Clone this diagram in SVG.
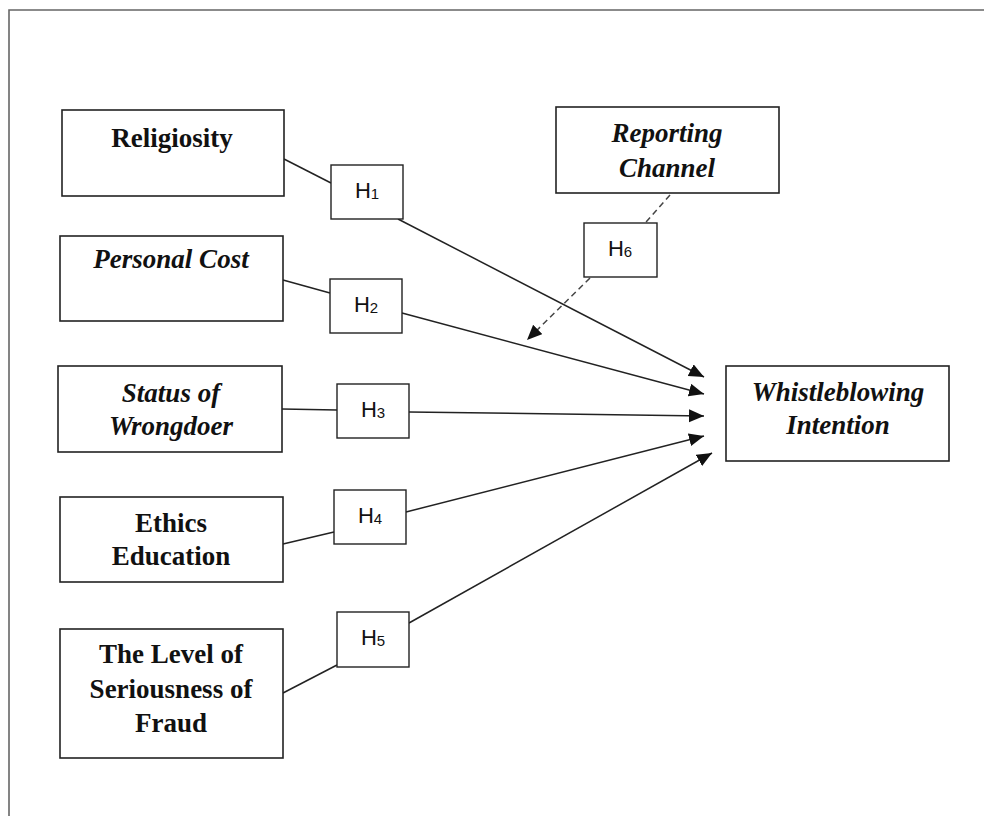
<svg xmlns="http://www.w3.org/2000/svg" width="984" height="816" viewBox="0 0 984 816">
  <style>
    .box { fill: #fff; stroke: #222; stroke-width: 1.6; }
    .hbox { fill: #fff; stroke: #222; stroke-width: 1.4; }
    .lbl { font-family: "Liberation Serif", "Times New Roman", serif; font-size: 27px; font-weight: bold; fill: #111; text-anchor: middle; }
    .it { font-style: italic; }
    .h { font-family: "Liberation Sans", Arial, sans-serif; font-size: 22px; fill: #111; text-anchor: middle; }
    .sub { font-size: 15px; }
    .edge { stroke: #222; stroke-width: 1.5; fill: none; }
    .dash { stroke: #444; stroke-width: 1.5; fill: none; stroke-dasharray: 6 4; }
    .frame { stroke: #666; stroke-width: 1.6; fill: none; }
  </style>
  <defs>
    <marker id="arrow" markerUnits="userSpaceOnUse" markerWidth="16" markerHeight="14" refX="15" refY="6.5" orient="auto">
      <path d="M0,0 L15,6.5 L0,13 Z" fill="#111"/>
    </marker>
  </defs>
  <rect width="984" height="816" fill="#fff"/>
  <polyline class="frame" points="9,816 9,10 984,10"/>

  <g id="connectors">
    <line class="edge" x1="284" y1="159" x2="331" y2="183"/>
    <line class="edge" x1="398" y1="219" x2="704" y2="377" marker-end="url(#arrow)"/>
    <line class="edge" x1="283" y1="280" x2="330" y2="293"/>
    <line class="edge" x1="402" y1="313" x2="704" y2="394" marker-end="url(#arrow)"/>
    <line class="edge" x1="282" y1="409" x2="337" y2="410"/>
    <line class="edge" x1="409" y1="412" x2="704" y2="416" marker-end="url(#arrow)"/>
    <line class="edge" x1="283" y1="544" x2="334" y2="532"/>
    <line class="edge" x1="406" y1="512" x2="704" y2="436" marker-end="url(#arrow)"/>
    <line class="edge" x1="283" y1="693" x2="337" y2="665"/>
    <line class="edge" x1="409" y1="623" x2="712" y2="453" marker-end="url(#arrow)"/>
    <line class="dash" x1="670" y1="195" x2="646" y2="222"/>
    <line class="dash" x1="590" y1="278" x2="527" y2="340" marker-end="url(#arrow)"/>
  </g>

  <g id="religiosity">
    <rect class="box" x="62" y="110" width="222" height="86"/>
    <text class="lbl" x="172" y="147">Religiosity</text>
  </g>
  <g id="personal-cost">
    <rect class="box" x="60" y="236" width="223" height="85"/>
    <text class="lbl it" x="171" y="268">Personal Cost</text>
  </g>
  <g id="status-of-wrongdoer">
    <rect class="box" x="58" y="366" width="224" height="86"/>
    <text class="lbl it" x="171" y="402">Status of</text>
    <text class="lbl it" x="171" y="435">Wrongdoer</text>
  </g>
  <g id="ethics-education">
    <rect class="box" x="60" y="497" width="223" height="85"/>
    <text class="lbl" x="171" y="532">Ethics</text>
    <text class="lbl" x="171" y="565">Education</text>
  </g>
  <g id="level-of-seriousness">
    <rect class="box" x="60" y="629" width="223" height="129"/>
    <text class="lbl" x="171" y="663">The Level of</text>
    <text class="lbl" x="171" y="698">Seriousness of</text>
    <text class="lbl" x="171" y="732">Fraud</text>
  </g>
  <g id="reporting-channel">
    <rect class="box" x="556" y="107" width="223" height="86"/>
    <text class="lbl it" x="667" y="142">Reporting</text>
    <text class="lbl it" x="667" y="177">Channel</text>
  </g>
  <g id="whistleblowing-intention">
    <rect class="box" x="726" y="366" width="223" height="95"/>
    <text class="lbl it" x="838" y="401">Whistleblowing</text>
    <text class="lbl it" x="838" y="434">Intention</text>
  </g>

  <g id="h1">
    <rect class="hbox" x="331" y="165" width="72" height="54"/>
    <text class="h" x="367" y="198">H<tspan class="sub" dy="1">1</tspan></text>
  </g>
  <g id="h2">
    <rect class="hbox" x="330" y="279" width="72" height="54"/>
    <text class="h" x="366" y="312">H<tspan class="sub" dy="1">2</tspan></text>
  </g>
  <g id="h3">
    <rect class="hbox" x="337" y="384" width="72" height="54"/>
    <text class="h" x="373" y="417">H<tspan class="sub" dy="1">3</tspan></text>
  </g>
  <g id="h4">
    <rect class="hbox" x="334" y="490" width="72" height="54"/>
    <text class="h" x="370" y="523">H<tspan class="sub" dy="1">4</tspan></text>
  </g>
  <g id="h5">
    <rect class="hbox" x="337" y="612" width="72" height="55"/>
    <text class="h" x="373" y="645">H<tspan class="sub" dy="1">5</tspan></text>
  </g>
  <g id="h6">
    <rect class="hbox" x="584" y="223" width="73" height="54"/>
    <text class="h" x="620" y="256">H<tspan class="sub" dy="1">6</tspan></text>
  </g>
</svg>
